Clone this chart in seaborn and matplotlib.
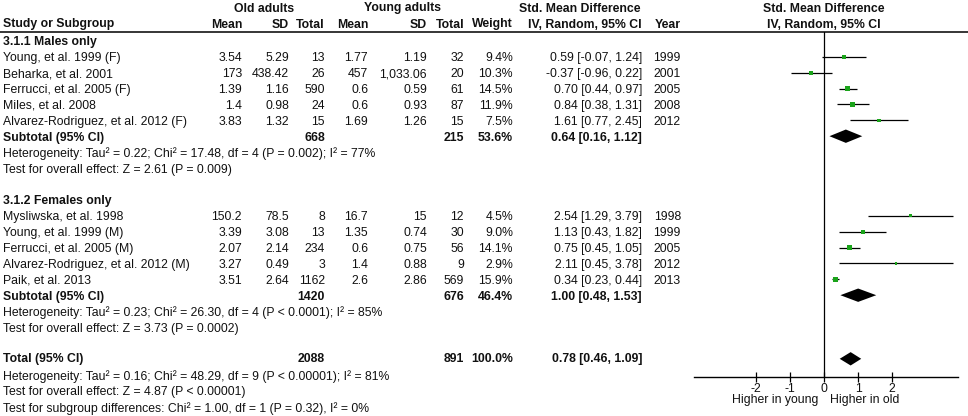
import matplotlib
matplotlib.use("Agg")
import matplotlib.pyplot as plt
import numpy as np
import pandas as pd
import seaborn as sns

# ---------------- data ----------------
males_study = ["Young, et al. 1999 (F)", "Beharka, et al. 2001", "Ferrucci, et al. 2005 (F)",
               "Miles, et al. 2008", "Alvarez-Rodriguez, et al. 2012 (F)"]
males_old_mean = [3.54, 173, 1.39, 1.4, 3.83]
males_old_sd = [5.29, 438.42, 1.16, 0.98, 1.32]
males_old_n = [13, 26, 590, 24, 15]
males_young_mean = [1.77, 457, 0.6, 0.6, 1.69]
males_young_sd = [1.19, 1033.06, 0.59, 0.93, 1.26]
males_young_n = [32, 20, 61, 87, 15]
males_weight = [9.4, 10.3, 14.5, 11.9, 7.5]
males_smd = [0.59, -0.37, 0.70, 0.84, 1.61]
males_lo = [-0.07, -0.96, 0.44, 0.38, 0.77]
males_hi = [1.24, 0.22, 0.97, 1.31, 2.45]
males_year = [1999, 2001, 2005, 2008, 2012]
males_sub = dict(old_n=668, young_n=215, weight=53.6, smd=0.64, lo=0.16, hi=1.12)
males_het = "Heterogeneity: Tau\u00b2 = 0.22; Chi\u00b2 = 17.48, df = 4 (P = 0.002); I\u00b2 = 77%"
males_test = "Test for overall effect: Z = 2.61 (P = 0.009)"

fem_study = ["Mysliwska, et al. 1998", "Young, et al. 1999 (M)", "Ferrucci, et al. 2005 (M)",
             "Alvarez-Rodriguez, et al. 2012 (M)", "Paik, et al. 2013"]
fem_old_mean = [150.2, 3.39, 2.07, 3.27, 3.51]
fem_old_sd = [78.5, 3.08, 2.14, 0.49, 2.64]
fem_old_n = [8, 13, 234, 3, 1162]
fem_young_mean = [16.7, 1.35, 0.6, 1.4, 2.6]
fem_young_sd = [15, 0.74, 0.75, 0.88, 2.86]
fem_young_n = [12, 30, 56, 9, 569]
fem_weight = [4.5, 9.0, 14.1, 2.9, 15.9]
fem_smd = [2.54, 1.13, 0.75, 2.11, 0.34]
fem_lo = [1.29, 0.43, 0.45, 0.45, 0.23]
fem_hi = [3.79, 1.82, 1.05, 3.78, 0.44]
fem_year = [1998, 1999, 2005, 2012, 2013]
fem_sub = dict(old_n=1420, young_n=676, weight=46.4, smd=1.00, lo=0.48, hi=1.53)
fem_het = "Heterogeneity: Tau\u00b2 = 0.23; Chi\u00b2 = 26.30, df = 4 (P < 0.0001); I\u00b2 = 85%"
fem_test = "Test for overall effect: Z = 3.73 (P = 0.0002)"

total = dict(old_n=2088, young_n=891, weight=100.0, smd=0.78, lo=0.46, hi=1.09)
total_het = "Heterogeneity: Tau\u00b2 = 0.16; Chi\u00b2 = 48.29, df = 9 (P < 0.00001); I\u00b2 = 81%"
total_test = "Test for overall effect: Z = 4.87 (P < 0.00001)"
subgroup_test = "Test for subgroup differences: Chi\u00b2 = 1.00, df = 1 (P = 0.32), I\u00b2 = 0%"

x_ticks = [-2, -1, 0, 1, 2]
x_left_label = "Higher in young"
x_right_label = "Higher in old"

# ---------------- layout ----------------
W, H = 968, 416
ROW0, DY = 40.8, 15.9          # pixel y of row 0 and row spacing
def rowy(i):
    return ROW0 + DY * i

FONT = "Liberation Sans"
FS = 8.8
INK = "#111111"
GREEN = "#1aa31a"

sns.set_style("white")
plt.rcParams["font.family"] = [FONT, "DejaVu Sans"]

fig = plt.figure(figsize=(W / 100, H / 100), dpi=100)
tab = fig.add_axes([0, 0, 1, 1])
tab.set_xlim(0, W)
tab.set_ylim(H, 0)
tab.axis("off")

# column right edges (px)
cols = dict(old_mean=242, old_sd=289, old_n=325, young_mean=368, young_sd=427,
            young_n=464, weight=513, smd=642, year=681)

def t(x, y, s, ha="left", bold=False, **kw):
    tab.text(x, y, s, ha=ha, va="center", fontsize=FS, color=INK,
             fontweight="bold" if bold else "normal", **kw)

def num(v):
    if isinstance(v, int):
        return str(v)
    return f"{v:,}"

# header
hy1, hy2 = 8.5, 24.5
t(264, hy1, "Old adults", ha="center", bold=True)
t(402, hy1, "Young adults", ha="center", bold=True)
t(580, hy1, "Std. Mean Difference", ha="center", bold=True)
t(824, hy1, "Std. Mean Difference", ha="center", bold=True)
t(3, hy2, "Study or Subgroup", bold=True)
for key, lab in [("old_mean", "Mean"), ("old_sd", "SD"), ("old_n", "Total"),
                 ("young_mean", "Mean"), ("young_sd", "SD"), ("young_n", "Total"),
                 ("weight", "Weight"), ("smd", "IV, Random, 95% CI"), ("year", "Year")]:
    t(cols[key], hy2, lab, ha="right", bold=True)
t(824, hy2, "IV, Random, 95% CI", ha="center", bold=True)
tab.plot([0, W], [32.3, 32.3], color="black", lw=1.1, solid_capstyle="butt")

TOFF = 1.6

def study_block(start, title, study, om, osd, on, ym, ysd, yn, w, smd, lo, hi, yr, sub, het, test):
    t(3, rowy(start) + TOFF, title, bold=True)
    for k in range(len(study)):
        y = rowy(start + 1 + k) + TOFF
        t(3, y, study[k])
        t(cols["old_mean"], y, num(om[k]), ha="right")
        t(cols["old_sd"], y, num(osd[k]), ha="right")
        t(cols["old_n"], y, num(on[k]), ha="right")
        t(cols["young_mean"], y, num(ym[k]), ha="right")
        t(cols["young_sd"], y, num(ysd[k]), ha="right")
        t(cols["young_n"], y, num(yn[k]), ha="right")
        t(cols["weight"], y, f"{w[k]:.1f}%", ha="right")
        t(cols["smd"], y, f"{smd[k]:.2f} [{lo[k]:.2f}, {hi[k]:.2f}]", ha="right")
        t(cols["year"], y, str(yr[k]), ha="right")
    n = len(study)
    ys = rowy(start + 1 + n) + TOFF
    t(3, ys, "Subtotal (95% CI)", bold=True)
    t(cols["old_n"], ys, num(sub["old_n"]), ha="right", bold=True)
    t(cols["young_n"], ys, num(sub["young_n"]), ha="right", bold=True)
    t(cols["weight"], ys, f"{sub['weight']:.1f}%", ha="right", bold=True)
    t(cols["smd"], ys, f"{sub['smd']:.2f} [{sub['lo']:.2f}, {sub['hi']:.2f}]", ha="right", bold=True)
    t(3, rowy(start + 2 + n) + TOFF, het)
    t(3, rowy(start + 3 + n) + TOFF, test)
    return list(range(start + 1, start + 1 + n)), start + 1 + n

m_rows, m_sub_row = study_block(0, "3.1.1 Males only", males_study, males_old_mean, males_old_sd,
                                males_old_n, males_young_mean, males_young_sd, males_young_n,
                                males_weight, males_smd, males_lo, males_hi, males_year,
                                males_sub, males_het, males_test)
f_rows, f_sub_row = study_block(10, "3.1.2 Females only", fem_study, fem_old_mean, fem_old_sd,
                                fem_old_n, fem_young_mean, fem_young_sd, fem_young_n,
                                fem_weight, fem_smd, fem_lo, fem_hi, fem_year,
                                fem_sub, fem_het, fem_test)
tot_row = 20
yt = rowy(tot_row) + TOFF - 1
t(3, yt, "Total (95% CI)", bold=True)
t(cols["old_n"], yt, num(total["old_n"]), ha="right", bold=True)
t(cols["young_n"], yt, num(total["young_n"]), ha="right", bold=True)
t(cols["weight"], yt, f"{total['weight']:.1f}%", ha="right", bold=True)
t(cols["smd"], yt, f"{total['smd']:.2f} [{total['lo']:.2f}, {total['hi']:.2f}]", ha="right", bold=True)
t(3, rowy(21) + TOFF, total_het)
t(3, rowy(22) + TOFF, total_test)
t(3, rowy(23) + TOFF, subgroup_test)

# ---------------- forest plot ----------------
AX_L, AX_R, AX_T, AX_B = 694, 958, 32.3, 377
ZERO, SCALE = 824, 34.15
ax = fig.add_axes([AX_L / W, (H - AX_B) / H, (AX_R - AX_L) / W, (AX_B - AX_T) / H])
ax.patch.set_alpha(0)
ax.set_xlim((AX_L - ZERO) / SCALE, (AX_R - ZERO) / SCALE)
ax.set_ylim((AX_B - ROW0) / DY, (AX_T - ROW0) / DY)

df = pd.DataFrame({
    "smd": males_smd + fem_smd,
    "lo": males_lo + fem_lo,
    "hi": males_hi + fem_hi,
    "weight": males_weight + fem_weight,
    "row": m_rows + f_rows,
})
ax.axvline(0, color="black", lw=0.9, zorder=1)
ax.hlines(df["row"], df["lo"], df["hi"], color="black", lw=0.9, zorder=2)
sns.scatterplot(data=df, x="smd", y="row", size="weight", sizes=(0, 14), size_norm=(0, 15.9),
                marker="s", color=GREEN, edgecolor="none", linewidth=0, legend=False,
                ax=ax, zorder=3)

HH = 0.42
for r, s in [(m_sub_row, males_sub), (f_sub_row, fem_sub), (tot_row, total)]:
    ax.fill([s["lo"], s["smd"], s["hi"], s["smd"]], [r, r - HH, r, r + HH],
            color="black", lw=0, zorder=3)

for sp in ["top", "left", "right"]:
    ax.spines[sp].set_visible(False)
ax.spines["bottom"].set_color("black")
ax.spines["bottom"].set_linewidth(1.0)
ax.set_yticks([])
ax.set_xticks(x_ticks)
ax.set_xticklabels([str(v) for v in x_ticks])
ax.tick_params(axis="x", direction="inout", length=7, width=0.9, color="black",
               labelsize=FS, labelcolor=INK, pad=1, bottom=True)
ax.set_xlabel("")
ax.set_ylabel("")

t(ZERO - 6, 400, x_left_label, ha="right")
t(ZERO + 6, 400, x_right_label, ha="left")

fig.savefig("out.png", dpi=100)
